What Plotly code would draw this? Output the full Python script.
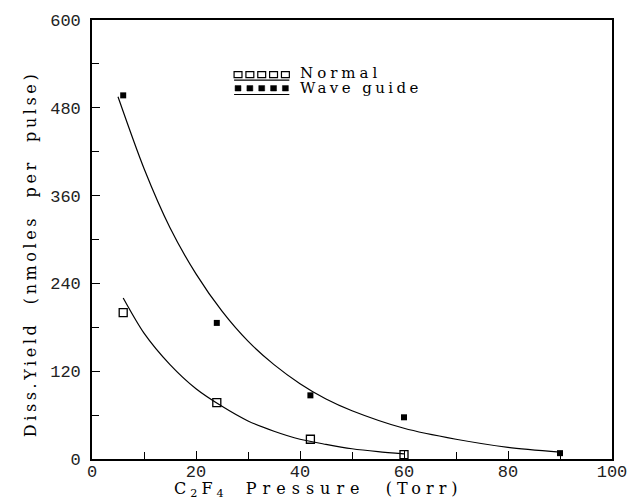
import plotly.graph_objects as go

# ---- data ----
normal_x = [6, 24, 42, 60]
normal_y = [200, 77, 27, 6]
wave_x = [6, 24, 42, 60, 90]
wave_y = [497, 186, 87, 57, 8]

# fitted curves
normal_fit_x = [6, 10, 15, 20, 25, 30, 35, 40, 45, 50, 55, 60]
normal_fit_y = [220, 172, 129, 96, 72, 52, 38, 27, 20, 14, 10, 7]
wave_fit_x = [5, 10, 15, 20, 25, 30, 35, 40, 45, 50, 60, 70, 80, 90]
wave_fit_y = [495, 397, 316, 253, 202, 161, 129, 103, 82, 66, 42, 27, 16, 9.5]

x_ticks = [0, 20, 40, 60, 80, 100]
y_ticks = [0, 120, 240, 360, 480, 600]

W, H = 639, 502
L, R, T, B = 92, 20, 17, 43
PW, PH = W - L - R, H - T - B


def px(xp):
    return (xp - L) / PW


def py(yp):
    return (H - B - yp) / PH


fig = go.Figure()
fig.add_trace(go.Scatter(x=normal_fit_x, y=normal_fit_y, mode="lines",
                         line=dict(color="black", width=1.2, shape="spline", smoothing=0.8),
                         showlegend=False, hoverinfo="skip"))
fig.add_trace(go.Scatter(x=wave_fit_x, y=wave_fit_y, mode="lines",
                         line=dict(color="black", width=1.2, shape="spline", smoothing=0.8),
                         showlegend=False, hoverinfo="skip"))
fig.add_trace(go.Scatter(x=normal_x, y=normal_y, mode="markers", name="Normal",
                         marker=dict(symbol="square-open", size=8, color="black",
                                     line=dict(width=1.3, color="black")),
                         showlegend=False))
fig.add_trace(go.Scatter(x=wave_x, y=wave_y, mode="markers", name="Wave guide",
                         marker=dict(symbol="square", size=6, color="black"),
                         showlegend=False))

tick_font = dict(family="Liberation Mono", size=17, color="#222")
axis_common = dict(showline=True, linecolor="black", linewidth=1.6, mirror=True,
                   ticks="inside", ticklen=8, tickwidth=1.2, tickcolor="black",
                   showgrid=False, zeroline=False, tickfont=tick_font)

fig.update_xaxes(range=[0, 100], tickvals=x_ticks, ticktext=[str(v) for v in x_ticks],
                 minor=dict(dtick=10, ticks="inside", ticklen=7, tickcolor="black", tickwidth=1.2),
                 ticklabelstandoff=-4, **axis_common)
fig.update_yaxes(range=[0, 600], tickvals=y_ticks, ticktext=[str(v) for v in y_ticks],
                 minor=dict(dtick=60, ticks="inside", ticklen=7, tickcolor="black", tickwidth=1.2),
                 ticklabelstandoff=6, **axis_common)

shapes = []
centers = [240, 252, 264, 276, 288]
for c in centers:
    shapes.append(dict(type="rect", xref="paper", yref="paper",
                       x0=px(c - 4), x1=px(c + 4), y0=py(75), y1=py(69),
                       line=dict(color="black", width=1.2), fillcolor="white"))
    shapes.append(dict(type="rect", xref="paper", yref="paper",
                       x0=px(c - 3), x1=px(c + 3), y0=py(88.5), y1=py(83),
                       line=dict(color="black", width=0.5), fillcolor="black"))
shapes.append(dict(type="line", xref="paper", yref="paper", x0=px(236), x1=px(292),
                   y0=py(77.5), y1=py(77.5), line=dict(color="black", width=1.2)))
shapes.append(dict(type="line", xref="paper", yref="paper", x0=px(236), x1=px(292),
                   y0=py(92), y1=py(92), line=dict(color="black", width=1.2)))

title_font = dict(family="DejaVu Serif", size=16, color="black")
legend_font = dict(family="DejaVu Serif", size=15, color="black")


def spaced(text, px_gap):
    return '<span style="letter-spacing:%spx">%s</span>' % (px_gap, text)


NB = "\u00a0"
x_title = (spaced("C<sub>2</sub>F<sub>4</sub>", 4) + spaced(NB + NB, 4)
           + spaced("Pressure", 6) + spaced(NB + NB, 5) + spaced("(Torr)", 5))

annotations = [
    dict(text=spaced("Normal", 4), xref="paper", yref="paper", x=px(301), y=py(70),
         xanchor="left", yanchor="middle", showarrow=False, font=legend_font),
    dict(text=spaced("Wave guide", 3.4), xref="paper", yref="paper", x=px(301), y=py(85),
         xanchor="left", yanchor="middle", showarrow=False, font=legend_font),
    dict(text=x_title, xref="paper", yref="paper", x=px(322), y=py(490),
         xanchor="center", yanchor="middle", showarrow=False, font=title_font),
    dict(text=spaced("Diss.Yield  (nmoles  per  pulse)", 3.6), xref="paper", yref="paper",
         x=px(30), y=py(252), xanchor="center", yanchor="middle", showarrow=False,
         textangle=-90, font=title_font),
]

fig.update_layout(width=W, height=H, autosize=False,
                  margin=dict(l=L, r=R, t=T, b=B),
                  plot_bgcolor="white", paper_bgcolor="white",
                  shapes=shapes, annotations=annotations)

fig.write_html("out.html", config={"displayModeBar": False},
               post_script="document.body.style.margin='0px';document.body.style.overflow='hidden';")
